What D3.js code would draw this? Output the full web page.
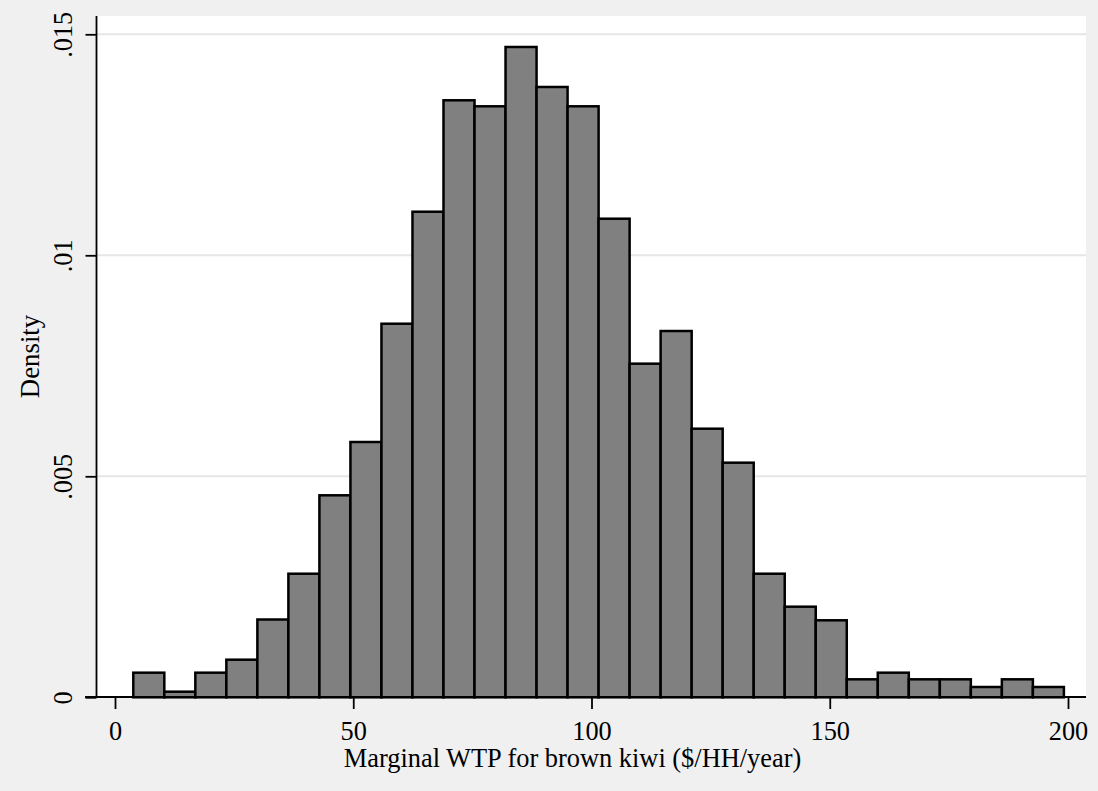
<!DOCTYPE html>
<html>
<head>
<meta charset="utf-8">
<script src="https://cdn.jsdelivr.net/npm/d3@7"></script>
<style>
  html, body { margin: 0; padding: 0; background: #f0f0f0; }
  svg { display: block; }
  text { font-family: "Liberation Serif", "Times New Roman", serif; fill: #000; }
</style>
</head>
<body>
<svg id="chart" width="1098" height="791"></svg>
<script>
// ---- data ----
const binStart = 3.84;      // lower edge of first bin ($/HH/year)
const binWidth = 6.51;      // bin width
const densities = [
  0.000557, 0.000127, 0.000557, 0.000851, 0.00176, 0.002796,
  0.00457, 0.005776, 0.008452, 0.010986, 0.013507, 0.013371,
  0.014713, 0.013808, 0.013371, 0.010828, 0.007548, 0.008287,
  0.006077, 0.005308, 0.002796, 0.00205, 0.001742, 0.000407,
  0.000557, 0.000407, 0.000407, 0.000233, 0.000407, 0.000233
];
const xTicks = [0, 50, 100, 150, 200];
const xTickLabels = ["0", "50", "100", "150", "200"];
const yTicks = [0, 0.005, 0.01, 0.015];
const yTickLabels = ["0", ".005", ".01", ".015"];
const xTitle = "Marginal WTP for brown kiwi ($/HH/year)";
const yTitle = "Density";

// ---- layout ----
const svg = d3.select("#chart");
const W = 1098, H = 791;
const plot = { left: 97, right: 1086, top: 16, bottom: 697 };

const x = d3.scaleLinear().domain([0, 200]).range([115, 1068]);
const y = d3.scaleLinear().domain([0, 0.015]).range([697.3, 34.3]);

svg.append("rect").attr("width", W).attr("height", H).attr("fill", "#f0f0f0");
svg.append("rect")
  .attr("x", plot.left).attr("y", plot.top)
  .attr("width", plot.right - plot.left).attr("height", plot.bottom - plot.top)
  .attr("fill", "#ffffff");

// gridlines
svg.append("g").selectAll("line")
  .data(yTicks.filter(d => d > 0))
  .join("line")
  .attr("x1", plot.left).attr("x2", plot.right)
  .attr("y1", d => y(d)).attr("y2", d => y(d))
  .attr("stroke", "#e6e6e6").attr("stroke-width", 2);

// bars
const bins = densities.map((d, i) => ({
  lo: binStart + i * binWidth,
  hi: binStart + (i + 1) * binWidth,
  d
}));
svg.append("g").selectAll("rect")
  .data(bins)
  .join("rect")
  .attr("x", b => x(b.lo))
  .attr("width", b => x(b.hi) - x(b.lo))
  .attr("y", b => y(b.d))
  .attr("height", b => y(0) - y(b.d))
  .attr("fill", "#808080")
  .attr("stroke", "#000")
  .attr("stroke-width", 2.5);

// y axis
const yAxis = d3.axisLeft(y)
  .tickValues(yTicks)
  .tickFormat((d, i) => yTickLabels[i])
  .tickSize(11)
  .tickSizeOuter(0);
const gy = svg.append("g").attr("transform", `translate(${plot.left - 0.5},0)`).call(yAxis);
gy.select(".domain").remove();
gy.append("line")
  .attr("x1", 0).attr("x2", 0)
  .attr("y1", plot.top).attr("y2", plot.bottom + 0.5)
  .attr("stroke", "#000").attr("stroke-width", 1.8);
gy.selectAll(".tick line").attr("stroke", "#000").attr("stroke-width", 1.8);
gy.selectAll(".tick text")
  .attr("font-size", 26.3)
  .attr("font-family", "Liberation Serif, serif")
  .attr("fill", "#000")
  .attr("x", null).attr("dy", null)
  .attr("text-anchor", "middle")
  .attr("transform", "translate(-24.5,0) rotate(-90)");

// x axis
const xAxis = d3.axisBottom(x)
  .tickValues(xTicks)
  .tickFormat((d, i) => xTickLabels[i])
  .tickSize(12)
  .tickSizeOuter(0);
const gx = svg.append("g").attr("transform", `translate(0,${plot.bottom})`).call(xAxis);
gx.select(".domain").remove();
gx.append("line")
  .attr("x1", plot.left - 12).attr("x2", plot.right)
  .attr("y1", 0).attr("y2", 0)
  .attr("stroke", "#000").attr("stroke-width", 2);
gx.selectAll(".tick line").attr("stroke", "#000").attr("stroke-width", 1.8);
gx.selectAll(".tick text")
  .attr("font-size", 26.3)
  .attr("font-family", "Liberation Serif, serif")
  .attr("fill", "#000")
  .attr("y", 42.5).attr("dy", null);

// titles
svg.append("text")
  .attr("x", 572.5).attr("y", 767)
  .attr("text-anchor", "middle")
  .attr("font-size", 26.4)
  .text(xTitle);

svg.append("text")
  .attr("transform", `translate(38.5,${(plot.top + plot.bottom) / 2}) rotate(-90)`)
  .attr("text-anchor", "middle")
  .attr("font-size", 26.8)
  .text(yTitle);
</script>
</body>
</html>
